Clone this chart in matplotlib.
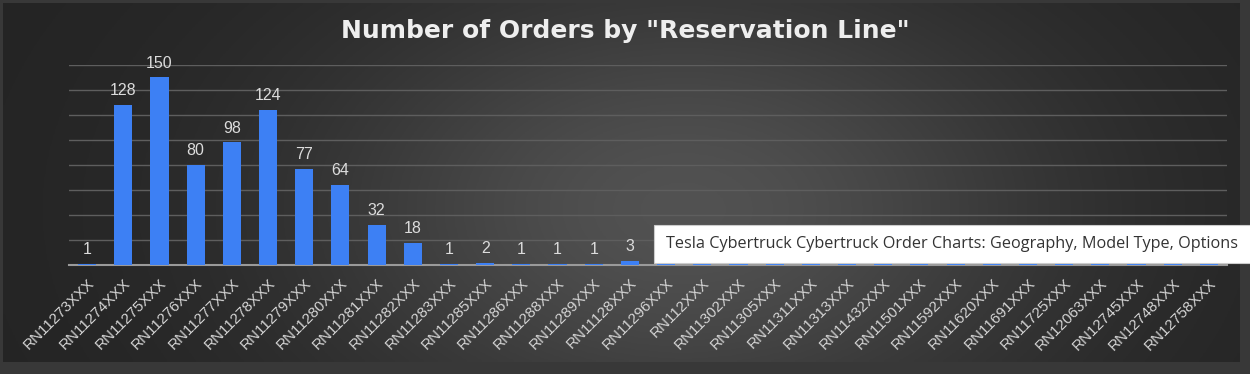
import numpy as np
import matplotlib.pyplot as plt

lines = ["RN11273XXX", "RN11274XXX", "RN11275XXX", "RN11276XXX", "RN11277XXX",
         "RN11278XXX", "RN11279XXX", "RN11280XXX", "RN11281XXX", "RN11282XXX",
         "RN11283XXX", "RN11285XXX", "RN11286XXX", "RN11288XXX", "RN11289XXX",
         "RN11128XXX", "RN11296XXX", "RN112XXX", "RN11302XXX", "RN11305XXX",
         "RN11311XXX", "RN11313XXX", "RN11432XXX", "RN11501XXX", "RN11592XXX",
         "RN11620XXX", "RN11691XXX", "RN11725XXX", "RN12063XXX", "RN12745XXX",
         "RN12748XXX", "RN12758XXX"]
orders = [1, 128, 150, 80, 98, 124, 77, 64, 32, 18, 1, 2, 1, 1, 1, 3,
          1, 3, 1, 1, 1, 1, 1, 1, 1, 1, 1, 1, 1, 1, 1, 1]
# labels hidden behind the tooltip from here on
n_labelled = 16

fig = plt.figure(figsize=(12.5, 3.74), dpi=100)
fig.patch.set_facecolor("#383838")

# dark panel with soft light in the middle
bg = fig.add_axes([3/1250, 12/374, 1237/1250, 359/374])
xx = np.linspace(-1, 1, 400)
yy = np.linspace(-1, 1, 120)
X, Y = np.meshgrid(xx, yy)
glow = np.exp(-((X - 0.1) / 0.6) ** 2 - ((Y + 0.15) / 1.3) ** 2)
v = 0.14 + 0.18 * glow
bg.imshow(np.dstack([v, v, v]), aspect="auto", extent=[0, 1, 0, 1],
          origin="lower")
bg.set_axis_off()

ax = fig.add_axes([69/1250, 1 - 265/374, 1158/1250, 200/374])
ax.set_facecolor("none")
x = np.arange(len(lines))
bars = ax.bar(x, orders, width=0.5, color="#3d80f4", zorder=3)
ax.set_xlim(-0.5, len(lines) - 0.5)
ax.set_ylim(0, 160)
ax.set_yticks(np.arange(20, 161, 20))
ax.yaxis.grid(True, color="#5e5e5e", linewidth=1)
ax.set_axisbelow(True)
ax.tick_params(axis="y", left=False, labelleft=False)
ax.tick_params(axis="x", length=0, pad=8)
for s in ["top", "right", "left"]:
    ax.spines[s].set_visible(False)
ax.spines["bottom"].set_color("#9a9a9a")
ax.spines["bottom"].set_linewidth(1.5)
ax.set_xticks(x)
ax.set_xticklabels(lines, rotation=45, ha="right", va="top",
                   rotation_mode="anchor", color="#d4d4d4",
                   fontsize=11, family="Liberation Sans")

for i in range(n_labelled):
    ax.annotate(str(orders[i]), (x[i], orders[i]), xytext=(0, 5),
                textcoords="offset points", ha="center", va="bottom",
                color="#dcdcdc", fontsize=11.5, family="Liberation Sans")

fig.text(0.5, 1 - 31/374, 'Number of Orders by "Reservation Line"',
         ha="center", va="center", color="#eeeeee", fontsize=18,
         fontweight="bold", family="DejaVu Sans")

# browser tooltip over the chart
fig.patches.append(plt.Rectangle((654/1250, 1 - 263/374), 600/1250, 38/374,
                                 transform=fig.transFigure, facecolor="white",
                                 edgecolor="#cccccc", linewidth=0.8, zorder=10))
fig.text(666/1250, 1 - 244/374,
         "Tesla Cybertruck Cybertruck Order Charts: Geography, Model Type, Options",
         ha="left", va="center", color="#333333", fontsize=11.7,
         family="Open Sans", zorder=11)

fig.savefig("out.png", dpi=100, facecolor=fig.get_facecolor())
